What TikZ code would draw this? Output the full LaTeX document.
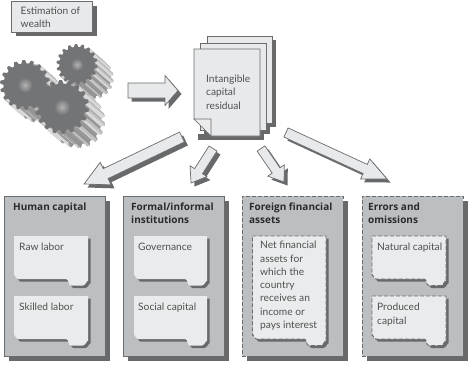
\documentclass[tikz,border=0pt]{standalone}
\usepackage{fontspec}
\setmainfont{Lato}
\newfontfamily\headfont{Open Sans}
\usetikzlibrary{calc}
\definecolor{inkgray}{HTML}{505050}
\definecolor{boldink}{HTML}{2A2A2A}
\definecolor{edgegray}{HTML}{6A6C6E}
\definecolor{shadowgray}{HTML}{67696B}
\definecolor{panelfill}{HTML}{BCBFC2}
\definecolor{cardfill}{HTML}{EAEBEC}
\definecolor{sheetfill}{HTML}{E8E9EB}
\definecolor{gearface}{HTML}{737476}
\tikzset{
  plaintext/.style={anchor=north west,inner sep=0pt,align=left,text=inkgray,
    font=\fontsize{10.2}{13.3}\selectfont},
  titletext/.style={anchor=north west,inner sep=0pt,align=left,text=boldink,
    font=\headfont\fontsize{10}{13.3}\selectfont\bfseries},
  outlined/.style={draw=edgegray,line width=0.7pt},
  panelbox/.style={outlined,fill=panelfill,rectangle,inner sep=0pt,minimum width=101pt,minimum height=160pt},
  solidline/.style={},
  dashline/.style={dash pattern=on 4pt off 2pt,line width=0.9pt},
  noborder/.style={draw=none},
  dropshade/.style={fill=shadowgray,draw=none},
  blockshape/.style={outlined,fill=sheetfill,line join=miter},
}
% Block arrow between two named points: from, to, half shaft, half head, head length
\newcommand{\blockarrow}[5]{%
  \def\arrowoutline{($(#1)!#3pt!90:(#2)$) -- ($($(#2)!#5pt!(#1)$)!#3pt!90:(#2)$)
    -- ($($(#2)!#5pt!(#1)$)!#4pt!90:(#2)$) -- (#2)
    -- ($($(#2)!#5pt!(#1)$)!#4pt!-90:(#2)$) -- ($($(#2)!#5pt!(#1)$)!#3pt!-90:(#2)$)
    -- ($(#1)!#3pt!-90:(#2)$) -- cycle}%
  \fill[dropshade,transform canvas={xshift=3.5pt,yshift=-3.5pt}] \arrowoutline;
  \draw[blockshape] \arrowoutline;
}
% Notched card: left, top, right, bottom, notch x
\newcommand{\cardoutline}[5]{(#1,#2) -- (#3,#2) -- (#3,#4+2) to[out=90,in=0] (#3-5,#4+6.5)
  -- (#5+5,#4+6.5) to[out=180,in=0] (#5,#4) -- (#1+4,#4) to[out=180,in=90] (#1,#4-4) -- cycle}
\newcommand{\card}[6]{%
  \fill[dropshade] \cardoutline{#1+2.5}{#2+2.5}{#3+2.5}{#4+2.5}{#5+2.5};
  \path[fill=cardfill,draw=edgegray,line width=0.8pt,#6] \cardoutline{#1}{#2}{#3}{#4}{#5};
}
% Toothed wheel with its body extruded toward the lower right
\newcommand{\gearwheel}[5]{% cx, cy, tip radius, extrude x, extrude y
  \begin{scope}[shift={(#1,#2)}]
    \pgfmathsetmacro{\pp}{20}
    \pgfmathsetmacro{\rv}{#3*0.86}
    \def\facepath{(0:\rv) \foreach \i in {0,...,17} {
        -- ({\i*\pp}:\rv) -- ({(\i+0.2)*\pp}:#3) -- ({(\i+0.5)*\pp}:#3)
        -- ({(\i+0.7)*\pp}:\rv) -- ({(\i+1)*\pp}:\rv)} -- cycle}
    \foreach \s in {1,0.75,0.5,0.25}
      \fill[gray!70!white,shift={(\s*#4,\s*#5)}] \facepath;
    \foreach \k in {5,4,3,2,1,0}{
      \foreach \sgn in {-1,1}{
        \pgfmathsetmacro{\a}{40+\sgn*\k*\pp}
        \fill[gray!85!white] ({\a}:\rv) -- ({\a+0.2*\pp}:#3) -- +(#4,#5) -- ($({\a}:\rv)+(#4,#5)$) -- cycle;
        \fill[gray!50!white] ({\a+0.2*\pp}:#3) -- ({\a+0.5*\pp}:#3) -- +(#4,#5) -- ($({\a+0.2*\pp}:#3)+(#4,#5)$) -- cycle;
        \fill[gray!30!white] ({\a+0.5*\pp}:#3) -- ({\a+0.7*\pp}:\rv) -- +(#4,#5) -- ($({\a+0.5*\pp}:#3)+(#4,#5)$) -- cycle;
        \fill[gray!80!white] ({\a+0.7*\pp}:\rv) -- ({\a+\pp}:\rv) -- +(#4,#5) -- ($({\a+0.7*\pp}:\rv)+(#4,#5)$) -- cycle;
      }
    }
    \fill[gearface] \facepath;
    \shade[inner color=gray!60!white,outer color=gearface] (0,0) circle ({#3*0.3});
  \end{scope}
}
\begin{document}
\begin{tikzpicture}[x=1pt,y=-1pt]
\useasboundingbox (0,0) rectangle (470,370);
\fill[white] (0,0) rectangle (470,370);

% Heading box
\fill[dropshade] (15.5,5.5) rectangle (96.5,36);
\draw[outlined,fill=sheetfill] (11.5,1.5) rectangle (92,32);
\node[plaintext] (wealth) at (20.5,6.6) {Estimation of\\wealth};

% Gears
\gearwheel{25}{85}{25}{15}{13}
\gearwheel{77}{64.5}{20.5}{16}{14}
\gearwheel{62}{107}{27}{16}{14}

% Stacked sheets
\fill[dropshade] (211,40) rectangle (276,127);
\fill[dropshade] (204,127) rectangle (270,134);
\fill[dropshade] (198,134) rectangle (264,140);
\draw[blockshape] (207,36) rectangle (272,123);
\draw[blockshape] (200.5,43) rectangle (266,130);
\draw[blockshape] (194,49) -- (260,49) -- (260,136) -- (211,136) -- (194,119) -- cycle;
\fill[white!85!gray] (194,119) -- (211,119) -- (211,136) -- cycle;
\draw[outlined] (194,119) -- (211,119) -- (211,136) -- cycle;
\node[plaintext] (residual) at (206,74.7) {Intangible\\capital\\residual};

% Panels
\foreach \nm/\cx/\st in {human/54.5/solidline,formal/173.5/solidline,foreign/292.5/dashline,errors/412.5/dashline}{
  \fill[dropshade] (\cx-50.5+4.5,200.5) rectangle (\cx+50.5+4.5,360.5);
  \node[panelbox,\st] (\nm) at (\cx,276) {};
}

\card{14}{236}{88}{279}{66}{noborder}
\card{14}{296}{88}{339}{66}{noborder}
\card{134}{236}{207}{279}{185}{noborder}
\card{134}{296}{207}{339}{185}{noborder}
\card{252.5}{236}{326}{339}{304}{dashline}
\card{372}{236}{446}{279}{424}{dashline}
\card{372}{296}{446}{339}{424}{dashline}

\node[titletext] (t1) at (13,202.5) {Human capital};
\node[titletext] (t2) at (131,202.5) {Formal/informal\\institutions};
\node[titletext] (t3) at (249,202.5) {Foreign financial\\assets};
\node[titletext] (t4) at (368,202.5) {Errors and\\omissions};

\node[plaintext] (c1) at (19,243) {Raw labor};
\node[plaintext] (c2) at (19,303) {Skilled labor};
\node[plaintext] (c3) at (138,243) {Governance};
\node[plaintext] (c4) at (138,303) {Social capital};
\node[plaintext] (c5) at (260,241) {Net financial\\assets for\\which the\\country\\receives an\\income or\\pays interest};
\node[plaintext] (c6) at (377,243) {Natural capital};
\node[plaintext] (c7) at (377,303) {Produced\\capital};

% Block arrows
\coordinate (gearsout) at (128,90.5);
\coordinate (sheetin) at (178,90.5);
\blockarrow{gearsout}{sheetin}{7.5}{15}{13}
\coordinate (tailA) at (182,137);
\coordinate (tipA) at (84,184);
\blockarrow{tailA}{tipA}{5.5}{12.5}{24}
\coordinate (tailB) at (213,148.5);
\coordinate (tipB) at (191,183);
\blockarrow{tailB}{tipB}{4.7}{10}{14}
\coordinate (tailC) at (261,148.5);
\coordinate (tipC) at (284,182);
\blockarrow{tailC}{tipC}{4.7}{10}{14}
\coordinate (tailD) at (286,132.5);
\coordinate (tipD) at (387,179);
\blockarrow{tailD}{tipD}{5}{11}{24}
\end{tikzpicture}
\end{document}
